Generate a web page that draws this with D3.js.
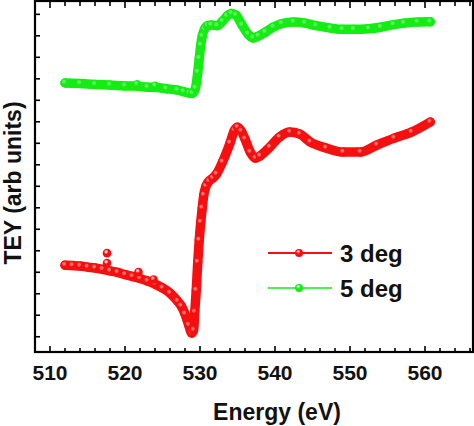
<!DOCTYPE html>
<html><head><meta charset="utf-8">
<script src="https://cdn.jsdelivr.net/npm/d3@7"></script>
<style>html,body{margin:0;padding:0;background:#fff;}svg{display:block;}</style>
</head><body>
<script>
// ---- data (energy in eV, TEY in arbitrary units) ----
const xTicks = [510, 520, 530, 540, 550, 560];
const yTickValues = [0,1,2,3,4,5,6,7,8,9,10,11,12,13,14,15];
const seriesNames = ["3 deg", "5 deg"];

const energy3 = [512.0,513.0,514.0,515.0,516.0,517.0,518.0,519.0,520.0,521.0,522.0,523.0,524.0,525.0,526.0,527.0,527.5,528.0,528.5,528.9,529.15,529.3,529.5,529.7,529.9,530.1,530.3,530.5,530.8,531.2,531.7,532.2,533.0,534.0,534.6,535.0,535.5,536.0,536.7,537.4,538.0,539.3,540.6,542.0,543.3,544.7,546.8,549.1,551.4,553.6,555.9,558.2,560.7];
const tey3 = [3.33,3.31,3.29,3.24,3.20,3.13,3.06,2.99,2.89,2.80,2.71,2.59,2.45,2.27,2.03,1.66,1.43,1.06,0.54,0.17,0.31,1.15,2.17,3.47,4.50,5.33,5.99,6.59,7.01,7.24,7.38,7.57,8.13,9.01,9.61,9.75,9.57,9.20,8.59,8.31,8.41,8.82,9.29,9.52,9.43,9.06,8.78,8.59,8.59,8.92,9.24,9.52,9.99];
const spikeEnergy3 = [517.6, 517.6, 521.8, 523.8];
const spikeTey3 = [3.89, 3.43, 3.01, 2.66];

const energy5 = [512.0,514.0,516.0,518.0,520.0,521.5,523.0,524.2,525.5,527.0,527.8,528.6,529.0,529.4,529.7,529.9,530.1,530.3,530.6,531.0,531.5,532.3,533.0,533.6,534.2,534.8,535.6,536.4,537.1,537.8,538.7,539.8,540.9,542.5,544.0,545.5,547.4,549.0,550.5,552.5,554.1,555.8,557.2,559.0,560.7];
const tey5 = [11.81,11.78,11.74,11.71,11.67,11.66,11.61,11.60,11.54,11.47,11.40,11.33,11.33,11.57,12.31,12.96,13.57,13.99,14.31,14.47,14.50,14.47,14.68,14.92,15.04,14.96,14.50,14.08,13.90,13.99,14.17,14.41,14.57,14.64,14.59,14.47,14.36,14.30,14.30,14.33,14.40,14.52,14.59,14.64,14.65];
const spikeEnergy5 = [521.6, 524.0];
const spikeTey5 = [11.75, 11.68];

const colors = ["#f5100f", "#14ec14"];

// ---- layout ----
const W = 474, H = 426;
const m = {left: 35, right: 473, top: 1, bottom: 352};

const svg = d3.select("body").append("svg").attr("width", W).attr("height", H)
  .style("font-family", "Arial, 'Liberation Sans', sans-serif");

const x = d3.scaleLinear().domain([508, 566.4]).range([m.left, m.right]);
const y = d3.scaleLinear().domain([-0.71, 15.62]).range([m.bottom, m.top]);

// gradients for sphere markers
const defs = svg.append("defs");
colors.forEach((c, i) => {
  const g = defs.append("radialGradient").attr("id", "g" + i)
    .attr("cx", "40%").attr("cy", "35%").attr("r", "65%");
  g.append("stop").attr("offset", "0%").attr("stop-color", "#ffffff").attr("stop-opacity", i === 0 ? 0.45 : 0.2);
  g.append("stop").attr("offset", "40%").attr("stop-color", c);
  g.append("stop").attr("offset", "100%").attr("stop-color", c);
});

// ---- series ----
function drawSeries(ex, ty, sx, sy, i) {
  const pts = ex.map((e, k) => [e, ty[k]]);
  const line = d3.line().x(d => x(d[0])).y(d => y(d[1])).curve(d3.curveMonotoneX);
  svg.append("path").datum(pts).attr("d", line)
    .attr("fill", "none").attr("stroke", colors[i]).attr("stroke-width", 9.5)
    .attr("stroke-linecap", "round").attr("stroke-linejoin", "round");
  svg.append("g").selectAll("circle").data(pts).join("circle")
    .attr("cx", d => x(d[0])).attr("cy", d => y(d[1])).attr("r", 4.6)
    .attr("fill", "url(#g" + i + ")");
  const sp = sx.map((e, k) => [e, sy[k]]);
  svg.append("g").selectAll("circle").data(sp).join("circle")
    .attr("cx", d => x(d[0])).attr("cy", d => y(d[1])).attr("r", 4.3)
    .attr("fill", "url(#g" + i + ")");
}
drawSeries(energy5, tey5, spikeEnergy5, spikeTey5, 1);
drawSeries(energy3, tey3, spikeEnergy3, spikeTey3, 0);

// ---- axes ----
const minorX = d3.range(510, 567, 2);
const axG = svg.append("g").attr("stroke", "#000").attr("stroke-width", 1.6);
minorX.forEach(v => {
  const major = v % 10 === 0;
  const len = major ? 6 : 4;
  axG.append("line").attr("x1", x(v)).attr("x2", x(v)).attr("y1", m.bottom).attr("y2", m.bottom - len);
  axG.append("line").attr("x1", x(v)).attr("x2", x(v)).attr("y1", m.top).attr("y2", m.top + len + 1);
});
yTickValues.forEach(v => {
  axG.append("line").attr("x1", m.left).attr("x2", m.left + 5).attr("y1", y(v)).attr("y2", y(v));
});

svg.append("rect").attr("x", m.left).attr("y", m.top).attr("width", m.right - m.left).attr("height", m.bottom - m.top)
  .attr("fill", "none").attr("stroke", "#000").attr("stroke-width", 2.2);

svg.append("g").selectAll("text").data(xTicks).join("text")
  .attr("x", d => x(d)).attr("y", 380).attr("text-anchor", "middle")
  .attr("font-size", 21).attr("font-weight", "bold").attr("fill", "#111").text(d => d);

svg.append("text").attr("x", 277).attr("y", 420).attr("text-anchor", "middle")
  .attr("font-size", 23).attr("font-weight", "bold").attr("fill", "#111").text("Energy (eV)");

svg.append("text").attr("transform", "translate(21,183) rotate(-90)").attr("text-anchor", "middle")
  .attr("font-size", 23).attr("font-weight", "bold").attr("fill", "#111").text("TEY (arb units)");

// ---- legend ----
const legY = [253, 288];
seriesNames.forEach((name, i) => {
  const g = svg.append("g");
  g.append("line").attr("x1", 268).attr("x2", 332).attr("y1", legY[i]).attr("y2", legY[i])
    .attr("stroke", colors[i]).attr("stroke-width", i === 0 ? 2.2 : 1.6);
  g.append("circle").attr("cx", 299).attr("cy", legY[i]).attr("r", 4).attr("fill", "url(#g" + i + ")");
  g.append("text").attr("x", 340).attr("y", legY[i] + 9).attr("font-size", 24).attr("font-weight", "bold")
    .attr("fill", "#111").text(name);
});
</script>
</body></html>
